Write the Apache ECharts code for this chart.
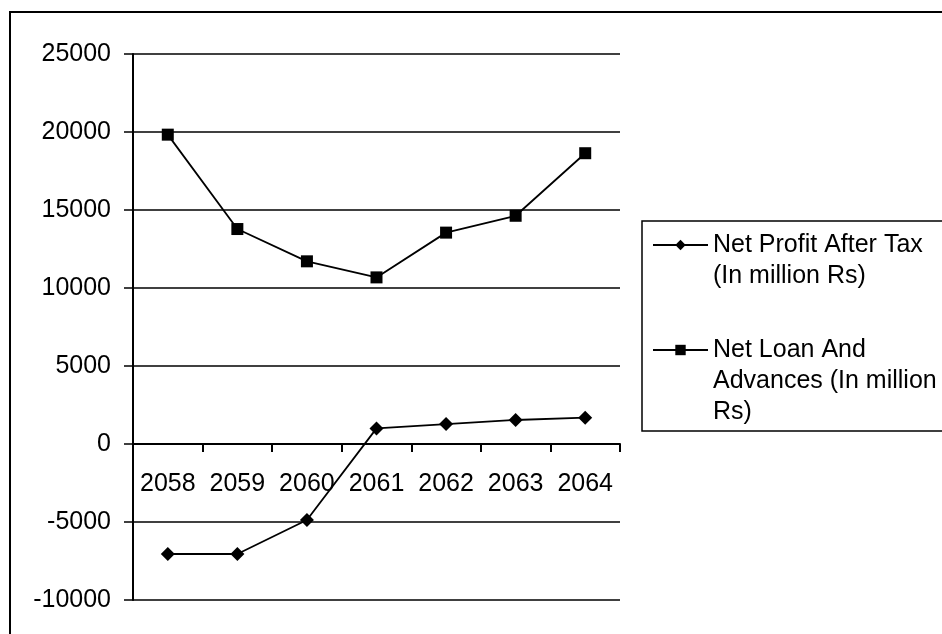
<!DOCTYPE html>
<html>
<head>
<meta charset="utf-8">
<script src="https://cdn.jsdelivr.net/npm/echarts@6/dist/echarts.min.js"></script>
<style>
  html, body { margin: 0; padding: 0; background: #fff; }
  #chart { width: 942px; height: 634px; }
</style>
</head>
<body>
<div id="chart"></div>
<script>
// Fiscal years (Nepali calendar)
const years = ['2058', '2059', '2060', '2061', '2062', '2063', '2064'];

// Net profit after tax, in million Rs
const netProfit = [-7050, -7050, -4870, 1000, 1280, 1540, 1690];

// Net loan and advances, in million Rs
const netLoan = [19830, 13780, 11710, 10680, 13550, 14630, 18640];

const seriesNames = [
  'Net Profit After Tax (In million Rs)',
  'Net Loan And Advances (In million Rs)'
];
// Legend text, wrapped the way it is shown
const legendLines = {
  'Net Profit After Tax (In million Rs)': ['Net Profit After Tax', '(In million Rs)'],
  'Net Loan And Advances (In million Rs)': ['Net Loan And', 'Advances (In million', 'Rs)']
};

const FONT = '"Liberation Sans", Arial, sans-serif';
const LINE_H = 31;
const Y_MIN = -10000;

const chart = echarts.init(document.getElementById('chart'), null, { renderer: 'canvas' });

chart.setOption({
  backgroundColor: '#ffffff',
  animation: false,
  textStyle: { fontFamily: FONT, color: '#000' },
  graphic: [
    {
      // outer chart frame
      type: 'rect',
      shape: { x: 10, y: 12, width: 1000, height: 1000 },
      style: { fill: 'none', stroke: '#000', lineWidth: 2 },
      silent: true
    },
    {
      // legend frame
      type: 'rect',
      shape: { x: 642, y: 221, width: 400, height: 210 },
      style: { fill: 'none', stroke: '#000', lineWidth: 1.5 },
      silent: true
    }
  ],
  grid: { left: 133, right: 322, top: 54, bottom: 34, outerBoundsMode: 'none', containLabel: false },
  legend: {
    orient: 'vertical',
    left: 652,
    top: 198.5,
    padding: 0,
    itemGap: -19,
    itemWidth: 55,
    itemHeight: 13,
    data: seriesNames,
    // blank lines above the label keep each icon level with the label's first line
    formatter: function (name) {
      const lines = legendLines[name];
      const blanks = [];
      for (let i = 1; i < lines.length; i++) blanks.push(' ');
      return blanks.concat(lines).join('\n');
    },
    textStyle: {
      fontFamily: FONT,
      fontSize: 25,
      color: '#000',
      lineHeight: LINE_H
    }
  },
  xAxis: {
    type: 'category',
    data: years,
    boundaryGap: true,
    axisLine: { show: true, onZero: false, lineStyle: { color: '#000', width: 2 } },
    axisTick: { show: true, inside: false, length: 8, alignWithLabel: false, lineStyle: { color: '#000', width: 2 } },
    axisLabel: { interval: 0, fontFamily: FONT, fontSize: 25, color: '#000', margin: 28, hideOverlap: false },
    splitLine: { show: false }
  },
  yAxis: {
    type: 'value',
    min: Y_MIN,
    max: 25000,
    interval: 5000,
    axisLine: { show: true, lineStyle: { color: '#000', width: 2 } },
    axisTick: { show: true, inside: false, length: 9, lineStyle: { color: '#000', width: 1.5 } },
    axisLabel: {
      fontFamily: FONT, fontSize: 25, color: '#000', margin: 22,
      formatter: function (v) { return String(v); }
    },
    splitLine: { show: true, lineStyle: { color: '#000', width: 1.5 } }
  },
  series: [
    {
      name: seriesNames[0],
      type: 'line',
      data: netProfit,
      symbol: 'diamond',
      symbolSize: 14,
      showAllSymbol: true,
      lineStyle: { color: '#000', width: 1.8 },
      itemStyle: { color: '#000', borderWidth: 0 }
    },
    {
      name: seriesNames[1],
      type: 'line',
      data: netLoan,
      symbol: 'rect',
      symbolSize: 12,
      showAllSymbol: true,
      lineStyle: { color: '#000', width: 1.8 },
      itemStyle: { color: '#000', borderWidth: 0 }
    }
  ]
});

// Lift the category axis (line, ticks and labels) up to the zero value line
const zeroY = chart.convertToPixel({ yAxisIndex: 0 }, 0);
const baseY = chart.convertToPixel({ yAxisIndex: 0 }, Y_MIN);
chart.setOption({ xAxis: { offset: -(baseY - zeroY) } });
</script>
</body>
</html>
